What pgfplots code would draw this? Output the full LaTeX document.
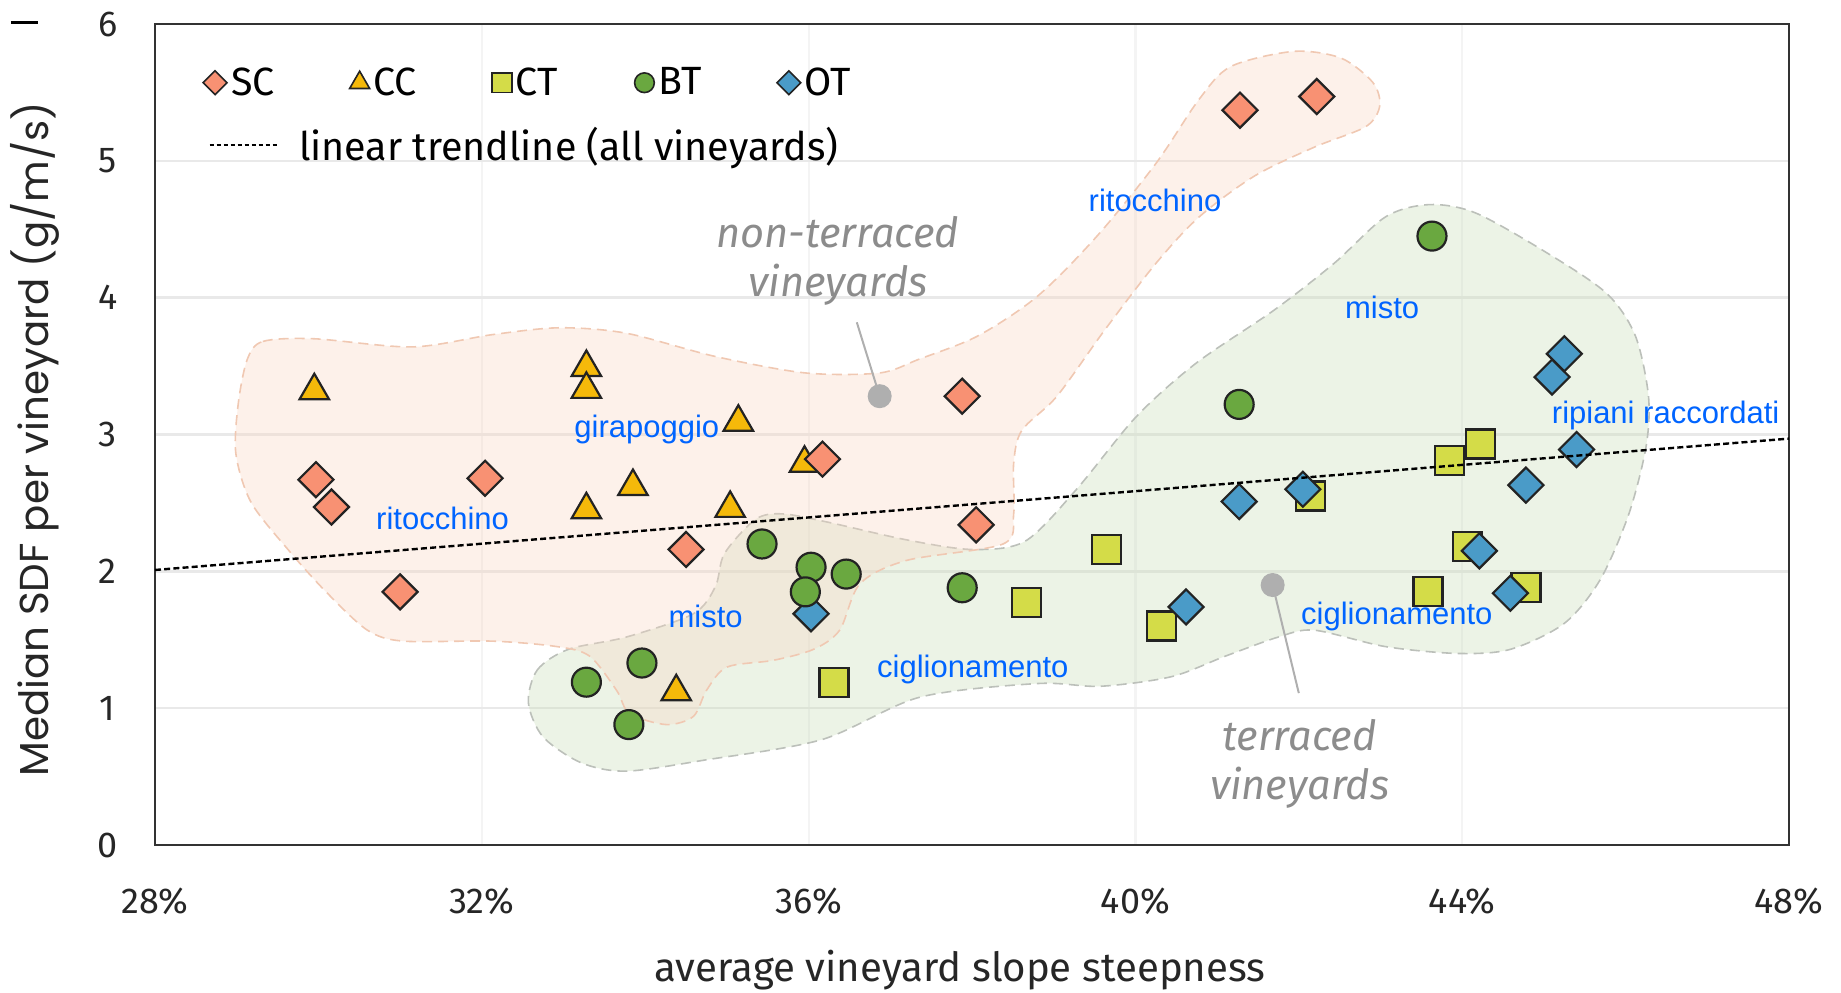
\documentclass[border=0pt]{standalone}
\usepackage{pgfplots}
\pgfplotsset{compat=1.18}
\usepackage{fontspec}
\setmainfont{Fira Sans}
\newfontfamily\arialf{Liberation Sans}
\newfontfamily\ylabf{Poppins}
\definecolor{cSC}{RGB}{248,145,115}
\definecolor{cCC}{RGB}{245,185,10}
\definecolor{cCT}{RGB}{212,220,72}
\definecolor{cBT}{RGB}{106,168,64}
\definecolor{cOT}{RGB}{74,155,200}
\definecolor{edge}{RGB}{35,35,35}
\definecolor{lblue}{RGB}{0,100,255}
\definecolor{annot}{RGB}{140,140,140}
\definecolor{annotdot}{RGB}{175,175,175}
\definecolor{blobS}{RGB}{249,215,195}
\definecolor{blobG}{RGB}{200,221,184}
\definecolor{blobSedge}{RGB}{240,200,178}
\definecolor{blobGedge}{RGB}{188,192,186}
\definecolor{gridc}{RGB}{233,233,233}
\definecolor{gridx}{RGB}{244,244,244}
\pgfplotsset{
  legmark/.style={legend image code/.code={\draw[##1,/tikz/every mark/.append style={scale=0.68,line width=0.8pt}] plot coordinates {(6pt,0pt)};}},
  legline/.style={legend image code/.code={\path[draw=none,fill=none] (0pt,-1pt) rectangle (12pt,1pt); \draw[##1,overlay] (3.3pt,0pt) -- (38pt,0pt);}},
  dmark/.style={only marks, mark=square*, mark size=6.2pt, mark options={rotate=45, fill=#1, draw=edge, line width=1.1pt}},
  tmark/.style={only marks, mark=triangle*, mark size=8.5pt, mark options={fill=#1, draw=edge, line width=1.1pt}},
  smark/.style={only marks, mark=square*, mark size=7.25pt, mark options={fill=#1, draw=edge, line width=1.1pt}},
  cmark/.style={only marks, mark=*, mark size=7.25pt, mark options={fill=#1, draw=edge, line width=1.1pt}},
  trendstyle/.style={black, line width=1.2pt, dash pattern=on 3pt off 1.6pt},
}
\begin{document}
\begin{tikzpicture}
\useasboundingbox (-77.5pt,-73.5pt) rectangle (843pt,422.5pt);
\begin{axis}[
  at={(0,0)}, anchor=south west,
  scale only axis, width=817pt, height=410.5pt,
  xmin=28, xmax=48, ymin=0, ymax=6,
  xtick={28,32,36,40,44,48},
  xticklabels={28\%,32\%,36\%,40\%,44\%,48\%},
  ytick={0,1,2,3,4,5,6},
  yticklabels={0,1,2,3,4,5,6},
  major tick length=0pt,
  xmajorgrids, ymajorgrids,
  x grid style={draw=gridx, line width=1.1pt},
  y grid style={draw=gridc, line width=1.3pt},
  axis line style={draw=black!80, line width=0.8pt},
  tick label style={font=\fontsize{18}{20}\selectfont, text=black!85},
  xticklabel style={anchor=center, yshift=-28.3pt},
  yticklabel style={anchor=center, xshift=-23.7pt},
  xlabel={average vineyard slope steepness},
  xlabel style={at={(axis description cs:0.4927,-0.152)}, anchor=center, font=\fontsize{20.1}{22}\selectfont, text=black!85},
  ylabel={Median SDF per vineyard (g/m/s)},
  ylabel style={at={(axis description cs:-0.0734,0.494)}, anchor=center, font=\ylabf\fontsize{20.2}{22}\selectfont, text=black!85},
  legend columns=5,
  legend style={draw=none, fill=none, at={(axis description cs:0.0294,0.952)}, anchor=north west,
    inner sep=0pt, outer sep=0pt, font=\fontsize{19.7}{21}\selectfont, row sep=10.5pt,
    cells={anchor=west}, nodes={inner sep=2pt},
    /tikz/every even column/.append style={column sep=33.3pt}},
  clip mode=individual,
]
% shaded groups
\addplot[draw=blobGedge, line width=0.8pt, dash pattern=on 5pt off 3pt, fill=blobG, fill opacity=0.35, smooth cycle, tension=0.5, forget plot] coordinates {
(32.57,1.04) (32.68,1.28) (33.06,1.43) (33.77,1.52) (34.59,1.69) (34.86,1.89) (34.97,2.13) (35.35,2.38) (35.68,2.42) (36.23,2.36) (37.2,2.23) (38.0,2.16) (38.65,2.22) (39.28,2.60) (40.01,3.13) (40.74,3.52) (41.70,3.91) (42.43,4.25) (43.06,4.59) (43.59,4.68) (44.16,4.62) (45.03,4.33) (45.77,4.03) (46.12,3.72) (46.28,3.28) (46.25,2.91) (46.04,2.42) (45.69,1.94) (45.25,1.62) (44.59,1.43) (43.94,1.40) (43.06,1.45) (42.19,1.57) (41.75,1.52) (41.10,1.38) (40.44,1.23) (39.57,1.16) (38.80,1.18) (37.36,1.08) (36.16,0.77) (34.72,0.62) (33.77,0.54) (33.22,0.60) (32.75,0.79)
};
\addplot[draw=blobSedge, line width=0.8pt, dash pattern=on 5pt off 3pt, fill=blobS, fill opacity=0.35, smooth cycle, tension=0.5, forget plot] coordinates {
(29.13,3.55) (29.32,3.68) (29.94,3.70) (31.15,3.64) (32.13,3.73) (32.95,3.78) (33.77,3.74) (34.86,3.57) (35.96,3.45) (36.87,3.45) (37.35,3.55) (38.07,3.72) (38.80,4.01) (39.53,4.45) (40.25,4.98) (40.78,5.45) (41.17,5.69) (41.94,5.80) (42.52,5.75) (42.91,5.57) (42.99,5.40) (42.82,5.25) (42.19,5.10) (41.46,4.89) (40.78,4.59) (40.25,4.25) (39.62,3.76) (39.04,3.28) (38.61,3.03) (38.51,2.79) (38.51,2.42) (38.38,2.20) (37.20,2.08) (36.63,1.91) (36.38,1.57) (36.06,1.43) (35.57,1.35) (35.0,1.30) (34.75,1.13) (34.59,0.94) (34.26,0.88) (33.81,0.96) (33.65,1.13) (33.32,1.38) (32.92,1.45) (32.13,1.49) (31.04,1.49) (30.60,1.57) (30.11,1.84) (29.67,2.13) (29.18,2.50) (28.99,2.86) (29.02,3.23)
};
% CC
\addplot[tmark=cCC, forget plot] coordinates {
(29.95,3.32) (33.28,3.49) (33.28,3.33) (35.14,3.09) (35.95,2.79) (33.85,2.62) (33.28,2.45) (35.04,2.46) (34.38,1.12)
};
% SC
\addplot[dmark=cSC, forget plot] coordinates {
(29.97,2.67) (30.16,2.47) (31.00,1.85) (32.04,2.68) (34.50,2.16) (36.17,2.82) (37.88,3.28) (38.05,2.34) (41.28,5.37) (42.22,5.47)
};
% CT
\addplot[smark=cCT, forget plot] coordinates {
(36.31,1.19) (38.67,1.77) (39.65,2.16) (40.32,1.60) (42.14,2.55) (43.84,2.81) (44.22,2.93) (44.06,2.18) (43.58,1.85) (44.78,1.88)
};
% OT
\addplot[dmark=cOT, forget plot] coordinates {
(36.03,1.69) (40.62,1.74) (41.27,2.51) (42.05,2.60) (44.21,2.15) (44.59,1.84) (44.78,2.63) (45.10,3.42) (45.25,3.59) (45.40,2.89)
};
% BT
\addplot[cmark=cBT, forget plot] coordinates {
(33.28,1.19) (33.96,1.33) (33.80,0.88) (35.43,2.20) (36.03,2.03) (36.46,1.98) (35.96,1.85) (37.88,1.88) (41.27,3.22) (43.63,4.45)
};
% trendline
\addplot[trendstyle, mark=none, forget plot] coordinates {(28,2.01) (48,2.97)};
% annotation pointers
\addplot[draw=annotdot, line width=1pt, mark=*, mark size=5.5pt, mark indices={1}, mark options={fill=annotdot, draw=none, solid}, forget plot] coordinates {(36.87,3.28) (36.59,3.82)};
\addplot[draw=annotdot, line width=1pt, mark=*, mark size=5.5pt, mark indices={1}, mark options={fill=annotdot, draw=none, solid}, forget plot] coordinates {(41.68,1.90) (42.00,1.11)};

% legend
\addlegendimage{dmark=cSC, legmark}
\addlegendentry{\makebox[24pt][l]{SC}}
\addlegendimage{tmark=cCC, legmark}
\addlegendentry{\makebox[24pt][l]{CC}}
\addlegendimage{smark=cCT, legmark}
\addlegendentry{\makebox[24pt][l]{CT}}
\addlegendimage{cmark=cBT, legmark}
\addlegendentry{\makebox[24pt][l]{BT}}
\addlegendimage{dmark=cOT, legmark}
\addlegendentry{\makebox[24pt][l]{OT}}
\addlegendimage{black, line width=1pt, line cap=butt, dash pattern=on 2.2pt off 1.3pt, mark=none, legline}
\addlegendentry{\makebox[0pt][l]{\hspace{34pt}linear trendline (all vineyards)}}

% blue labels
\begin{scope}[every node/.style={font=\arialf\fontsize{15.5}{17}\selectfont, text=lblue, inner sep=0pt}]
\node at (axis cs:31.52,2.39) {ritocchino};
\node at (axis cs:34.02,3.04) {girapoggio};
\node at (axis cs:40.24,4.71) {ritocchino};
\node at (axis cs:34.74,1.67) {misto};
\node at (axis cs:43.02,3.93) {misto};
\node at (axis cs:46.49,3.14) {ripiani raccordati};
\node at (axis cs:38.01,1.28) {ciglionamento};
\node at (axis cs:43.20,1.67) {ciglionamento};
\end{scope}
% grey italic annotations
\node[font=\itshape\fontsize{20.8}{24.6}\selectfont, text=annot, align=center] at (axis cs:36.36,4.27) {non-terraced\\vineyards};
\node[font=\itshape\fontsize{20.8}{24.6}\selectfont, text=annot, align=center] at (axis cs:42.01,0.595) {terraced\\vineyards};
% clipped fragment at the top left corner of the figure
\node[inner sep=0pt, anchor=west] at (axis description cs:-0.0885,1.002) {\rule{13.5pt}{1.4pt}};
\end{axis}
\end{tikzpicture}
\end{document}
